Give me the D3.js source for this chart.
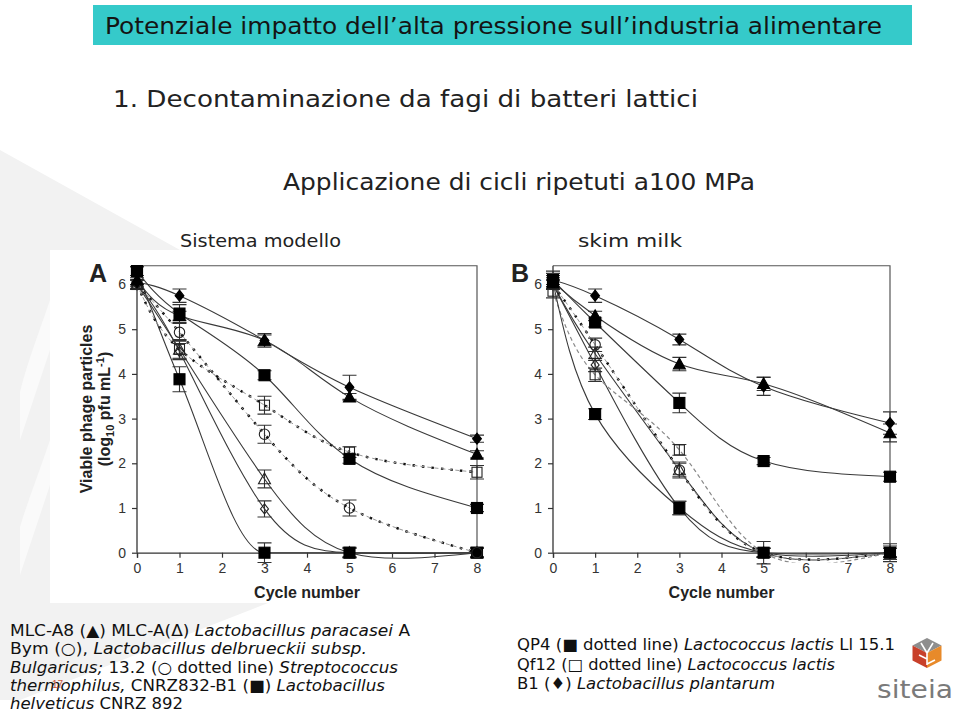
<!DOCTYPE html>
<html><head><meta charset="utf-8">
<script src="https://cdn.jsdelivr.net/npm/d3@7"></script>
<style>
html,body{margin:0;padding:0;background:#fff;}
svg{display:block;}
</style></head>
<body>
<svg id="chart" width="959" height="717"></svg>
<script>
// ---------------- DATA ----------------
const cycles = [0, 1, 3, 5, 8];
const xTickValues = [0, 1, 2, 3, 4, 5, 6, 7, 8];
const yTickValues = [0, 1, 2, 3, 4, 5, 6];

// Panel A (Sistema modello)
const A_B1_plantarum   = [6.05, 5.75, 4.75, 3.70, 2.55];
const A_B1_plantarum_e = [0.10, 0.15, 0.15, 0.27, 0.08];
const A_MLCA8          = [6.10, 5.30, 4.75, 3.48, 2.20];
const A_MLCA8_e        = [0.10, 0.10, 0.12, 0.08, 0.08];
const A_CNRZ832        = [6.30, 5.35, 3.97, 2.10, 1.00];
const A_CNRZ832_e      = [0.10, 0.20, 0.10, 0.10, 0.08];
const A_QP4            = [6.30, 3.88, 0.00, 0.00, 0.00];
const A_QP4_e          = [0.10, 0.28, 0.22, 0.12, 0.10];
const A_Qf12           = [6.00, 4.55, 3.30, 2.25, 1.80];
const A_Qf12_e         = [0.10, 0.22, 0.20, 0.12, 0.15];
const A_132            = [6.00, 4.93, 2.65, 1.00, 0.00];
const A_132_e          = [0.10, 0.20, 0.20, 0.18, 0.12];
const A_MLCA           = [6.00, 4.55, 1.65, 0.00, 0.00];
const A_MLCA_e         = [0.10, 0.20, 0.20, 0.10, 0.10];
const A_Bym            = [6.00, 4.50, 0.98, 0.00, 0.00];
const A_Bym_e          = [0.10, 0.18, 0.18, 0.10, 0.10];

// Panel B (skim milk)
const B_B1_plantarum   = [6.10, 5.75, 4.77, 3.72, 2.90];
const B_B1_plantarum_e = [0.15, 0.15, 0.12, 0.20, 0.25];
const B_MLCA8          = [6.05, 5.30, 4.22, 3.78, 2.68];
const B_MLCA8_e        = [0.10, 0.10, 0.15, 0.15, 0.20];
const B_CNRZ832        = [6.10, 5.15, 3.35, 2.05, 1.70];
const B_CNRZ832_e      = [0.20, 0.10, 0.22, 0.08, 0.10];
const B_QP4            = [6.05, 3.10, 1.00, 0.00, 0.00];
const B_QP4_e          = [0.15, 0.12, 0.15, 0.25, 0.20];
const B_Qf12           = [5.85, 3.98, 2.30, 0.00, 0.00];
const B_Qf12_e         = [0.15, 0.15, 0.12, 0.10, 0.10];
const B_132            = [6.00, 4.65, 1.85, 0.00, 0.00];
const B_132_e          = [0.10, 0.15, 0.18, 0.10, 0.10];
const B_MLCA           = [6.00, 4.45, 1.85, 0.00, 0.00];
const B_MLCA_e         = [0.10, 0.15, 0.15, 0.10, 0.15];
const B_Bym            = [6.00, 4.20, 1.00, 0.00, 0.00];
const B_Bym_e          = [0.10, 0.15, 0.15, 0.10, 0.10];

// Texts
const titleText = "Potenziale impatto dell\u2019alta pressione sull\u2019industria alimentare";
const subtitleText = "1. Decontaminazione da fagi di batteri lattici";
const headingText = "Applicazione di cicli ripetuti a100 MPa";
const panelTitles = ["Sistema modello", "skim milk"];
const panelLetters = ["A", "B"];
const xAxisTitle = "Cycle number";
const legendLeft = [
  [["MLC-A8 (\u25B2) MLC-A(\u0394) ", false], ["Lactobacillus paracasei", true], [" A", false]],
  [["Bym (\u25CB), ", false], ["Lactobacillus delbrueckii subsp.", true]],
  [["Bulgaricus;", true], [" 13.2 (\u25CB dotted line) ", false], ["Streptococcus", true]],
  [["thermophilus,", true], [" CNRZ832-B1 (\u25A0) ", false], ["Lactobacillus", true]],
  [["helveticus", true], [" CNRZ 892", false]]
];
const legendRight = [
  [["QP4 (\u25A0 dotted line) ", false], ["Lactococcus lactis", true], [" Ll 15.1", false]],
  [["Qf12 (\u25A1 dotted line) ", false], ["Lactococcus lactis", true]],
  [["B1 (\u2666) ", false], ["Lactobacillus plantarum", true]]
];

// ---------------- DRAWING ----------------
const svg = d3.select("#chart");

// faint background watermark
const bg = svg.append("g");
bg.append("path").attr("d", "M0,150 L180,250 L50,250 L50,603 L268,603 L20,700 L0,700 Z").attr("fill", "#f2f2f2");
bg.append("path").attr("d", "M50,300 C40,330 28,360 20,392 L20,440 C30,410 40,380 50,350 Z").attr("fill", "#fafafa");
bg.append("path").attr("d", "M50,440 C40,470 28,500 20,527 L20,575 C30,545 40,515 50,485 Z").attr("fill", "#fafafa");

// title bar
svg.append("rect").attr("x", 93).attr("y", 5).attr("width", 819).attr("height", 40).attr("fill", "#35CACA");
svg.append("text").attr("x", 105).attr("y", 34).attr("font-family", "DejaVu Sans").attr("font-size", 23)
  .attr("fill", "#141414").attr("textLength", 777).attr("lengthAdjust", "spacingAndGlyphs").text(titleText);
svg.append("text").attr("x", 113).attr("y", 107).attr("font-family", "DejaVu Sans").attr("font-size", 23)
  .attr("fill", "#222").attr("textLength", 585).attr("lengthAdjust", "spacingAndGlyphs").text(subtitleText);
svg.append("text").attr("x", 283).attr("y", 190).attr("font-family", "DejaVu Sans").attr("font-size", 23)
  .attr("fill", "#222").attr("textLength", 472).attr("lengthAdjust", "spacingAndGlyphs").text(headingText);
svg.append("text").attr("x", 180).attr("y", 247).attr("font-family", "DejaVu Sans").attr("font-size", 18)
  .attr("fill", "#222").attr("textLength", 161).attr("lengthAdjust", "spacingAndGlyphs").text(panelTitles[0]);
svg.append("text").attr("x", 578).attr("y", 247).attr("font-family", "DejaVu Sans").attr("font-size", 18)
  .attr("fill", "#222").attr("textLength", 104).attr("lengthAdjust", "spacingAndGlyphs").text(panelTitles[1]);

function mkSeries(v, e, marker, line, curve) { return {v, e, marker, line, curve: curve || d3.curveNatural}; }
const panelA = [
  mkSeries(A_MLCA, A_MLCA_e, "triO", "solid"),
  mkSeries(A_Bym, A_Bym_e, "diaO", "solid"),
  mkSeries(A_QP4, A_QP4_e, "sqF", "solid", d3.curveMonotoneX),
  mkSeries(A_132, A_132_e, "circO", "dotted"),
  mkSeries(A_Qf12, A_Qf12_e, "sqO", "dotted"),
  mkSeries(A_CNRZ832, A_CNRZ832_e, "sqF", "solid"),
  mkSeries(A_MLCA8, A_MLCA8_e, "triF", "solid"),
  mkSeries(A_B1_plantarum, A_B1_plantarum_e, "diaF", "solid")
];
const panelB = [
  mkSeries(B_Bym, B_Bym_e, "diaO", "solid"),
  mkSeries(B_MLCA, B_MLCA_e, "triO", "solid"),
  mkSeries(B_132, B_132_e, "circO", "dotted"),
  mkSeries(B_Qf12, B_Qf12_e, "sqO", "gray"),
  mkSeries(B_QP4, B_QP4_e, "sqF", "solid"),
  mkSeries(B_CNRZ832, B_CNRZ832_e, "sqF", "solid"),
  mkSeries(B_MLCA8, B_MLCA8_e, "triF", "solid"),
  mkSeries(B_B1_plantarum, B_B1_plantarum_e, "diaF", "solid")
];

function drawPanel(cfg) {
  const x = d3.scaleLinear().domain([0, 8]).range([cfg.x0, cfg.x1]);
  const y = d3.scaleLinear().domain([0, 6.42]).range([552.7, 552.7 - 6.42 * 44.7]);
  const g = svg.append("g");
  const clipId = "clip" + cfg.letter;
  svg.append("clipPath").attr("id", clipId).append("rect")
    .attr("x", cfg.x0).attr("y", y(6.42)).attr("width", cfg.x1 - cfg.x0 + 8).attr("height", y(-0.22) - y(6.42));
  // frame top/right
  g.append("path").attr("d", `M${cfg.x0},${y(6.42)}H${cfg.x1}V${y(0)}`).attr("fill", "none").attr("stroke", "#555").attr("stroke-width", 1.2);
  // axes
  const ax = g.append("g").attr("transform", `translate(0,${y(0)})`)
    .call(d3.axisBottom(x).tickValues(xTickValues).tickFormat(d3.format("d")).tickSizeOuter(0).tickSize(5).tickPadding(5));
  const ay = g.append("g").attr("transform", `translate(${cfg.x0},0)`)
    .call(d3.axisLeft(y).tickValues(yTickValues).tickFormat(d3.format("d")).tickSizeOuter(0).tickSize(5).tickPadding(6));
  [ax, ay].forEach(a => {
    a.select(".domain").attr("stroke", "#333").attr("stroke-width", 1.3);
    a.selectAll(".tick line").attr("stroke", "#333").attr("stroke-width", 1.2);
    a.selectAll(".tick text").attr("font-family", "Liberation Sans").attr("font-size", 14).attr("fill", "#333");
  });
  ay.select(".domain").attr("d", `M0,${y(6.42)}V${y(0)}`);

  const lines = g.append("g").attr("clip-path", `url(#${clipId})`);
  cfg.series.forEach(s => {
    const line = d3.line().x((d, i) => x(cycles[i])).y(d => y(d)).curve(s.curve);
    const p = lines.append("path").attr("d", line(s.v)).attr("fill", "none");
    if (s.line === "solid") p.attr("stroke", "#3a3a3a").attr("stroke-width", 1.1);
    else if (s.line === "dotted") {
      lines.append("path").attr("d", line(s.v)).attr("fill", "none").attr("stroke", "#999").attr("stroke-width", 1).attr("stroke-dasharray", "4,3");
      p.attr("stroke", "#111").attr("stroke-width", 2.4).attr("stroke-dasharray", "2.5,7");
    } else p.attr("stroke", "#888").attr("stroke-width", 1.2).attr("stroke-dasharray", "4,3");
  });
  // error bars
  const eb = g.append("g").attr("stroke", "#333").attr("stroke-width", 1.1).attr("fill", "none");
  cfg.series.forEach(s => {
    s.v.forEach((v, i) => {
      const cx = x(cycles[i]), lo = y(v - s.e[i]), hi = y(v + s.e[i]);
      eb.append("path").attr("d", `M${cx},${lo}V${hi}M${cx - 7},${lo}H${cx + 7}M${cx - 7},${hi}H${cx + 7}`);
    });
  });
  // markers
  const mk = g.append("g");
  cfg.series.forEach(s => {
    s.v.forEach((v, i) => {
      const cx = x(cycles[i]), cy = y(v);
      const filled = s.marker.endsWith("F");
      const fill = filled ? "#000" : "none";
      const stroke = filled ? "#000" : "#222";
      let el;
      if (s.marker.startsWith("sq")) {
        const h = filled ? 5.5 : 5;
        el = mk.append("rect").attr("x", cx - h).attr("y", cy - h).attr("width", 2 * h).attr("height", 2 * h);
      } else if (s.marker.startsWith("dia")) {
        const h = filled ? 5.5 : 5;
        el = mk.append("path").attr("d", `M${cx},${cy - h}L${cx + h * 0.8},${cy}L${cx},${cy + h}L${cx - h * 0.8},${cy}Z`);
      } else if (s.marker.startsWith("tri")) {
        const h = 6;
        el = mk.append("path").attr("d", `M${cx},${cy - h}L${cx + h},${cy + h * 0.8}L${cx - h},${cy + h * 0.8}Z`);
      } else {
        el = mk.append("circle").attr("cx", cx).attr("cy", cy).attr("r", 5.2);
      }
      el.attr("fill", fill).attr("stroke", stroke).attr("stroke-width", 1.1);
    });
  });
  // letter
  svg.append("text").attr("x", cfg.letterX).attr("y", 282).attr("font-family", "Liberation Sans").attr("font-weight", "bold")
    .attr("font-size", 25).attr("fill", "#222").text(cfg.letter);
  // x title
  svg.append("text").attr("x", (cfg.x0 + cfg.x1) / 2).attr("y", 598).attr("text-anchor", "middle")
    .attr("font-family", "Liberation Sans").attr("font-weight", "bold").attr("font-size", 16).attr("fill", "#222").text(xAxisTitle);
  return {x, y};
}

// white chart image area
svg.append("rect").attr("x", 50).attr("y", 250).attr("width", 880).attr("height", 353).attr("fill", "#fff");

drawPanel({x0: 137, x1: 477, series: panelA, letter: panelLetters[0], letterX: 89});
drawPanel({x0: 553, x1: 890, series: panelB, letter: panelLetters[1], letterX: 511});

// y axis title (panel A)
const yt = svg.append("g").attr("font-family", "Liberation Sans").attr("font-weight", "bold").attr("font-size", 16).attr("fill", "#222");
yt.append("text").attr("transform", "translate(92,409) rotate(-90)").attr("text-anchor", "middle").text("Viable phage particles");
const yt2 = yt.append("text").attr("transform", "translate(110,409) rotate(-90)").attr("text-anchor", "middle");
yt2.append("tspan").text("(log");
yt2.append("tspan").attr("font-size", 11).attr("dy", 4).text("10");
yt2.append("tspan").attr("dy", -4).text(" pfu mL");
yt2.append("tspan").attr("font-size", 11).attr("dy", -6).text("-1");
yt2.append("tspan").attr("dy", 6).text(")");

// legends
function drawLegend(lines, lengths, x0, y0, dy, size) {
  const g = svg.append("g").attr("font-family", "DejaVu Sans").attr("font-size", size).attr("fill", "#111");
  lines.forEach((parts, i) => {
    const t = g.append("text").attr("x", x0).attr("y", y0 + i * dy)
      .attr("textLength", lengths[i]).attr("lengthAdjust", "spacingAndGlyphs");
    parts.forEach(([s, it]) => t.append("tspan").attr("font-style", it ? "italic" : "normal").text(s));
  });
}
drawLegend(legendLeft, [400, 357, 388, 375, 173], 10, 636, 18.3, 16);
drawLegend(legendRight, [378, 318, 258], 517, 650, 19.5, 16);

// slide number
svg.append("text").attr("x", 52).attr("y", 688).attr("font-family", "Liberation Sans").attr("font-size", 10).attr("fill", "#c8553a").text("17");

// logo
const logo = svg.append("g");
const cx = 927, cyTop = 638, w = 14.5, hh = 7.5, hgt = 15;
logo.append("path").attr("d", `M${cx},${cyTop}L${cx + w},${cyTop + hh}L${cx},${cyTop + 2 * hh}L${cx - w},${cyTop + hh}Z`).attr("fill", "#8e8e8e");
logo.append("path").attr("d", `M${cx - w},${cyTop + hh}L${cx},${cyTop + 2 * hh}L${cx},${cyTop + 2 * hh + hgt}L${cx - w},${cyTop + hh + hgt}Z`).attr("fill", "#c8402a");
logo.append("path").attr("d", `M${cx + w},${cyTop + hh}L${cx},${cyTop + 2 * hh}L${cx},${cyTop + 2 * hh + hgt}L${cx + w},${cyTop + hh + hgt}Z`).attr("fill", "#e88a2a");
logo.append("path").attr("d", `M${cx - 6},${cyTop + 5}L${cx},${cyTop + 2 * hh}L${cx + 6},${cyTop + 5}M${cx},${cyTop + 2 * hh}V${cyTop + 2 * hh + hgt - 3}M${cx},${cyTop + 21}L${cx - 8},${cyTop + 17}M${cx},${cyTop + 26}L${cx + 8},${cyTop + 22}`)
  .attr("stroke", "#fff").attr("stroke-width", 1.6).attr("fill", "none");
svg.append("text").attr("x", 877).attr("y", 698).attr("font-family", "DejaVu Sans").attr("font-size", 25).attr("fill", "#7a7a7a")
  .attr("textLength", 76).attr("lengthAdjust", "spacingAndGlyphs").text("siteia");
</script>
</body></html>
